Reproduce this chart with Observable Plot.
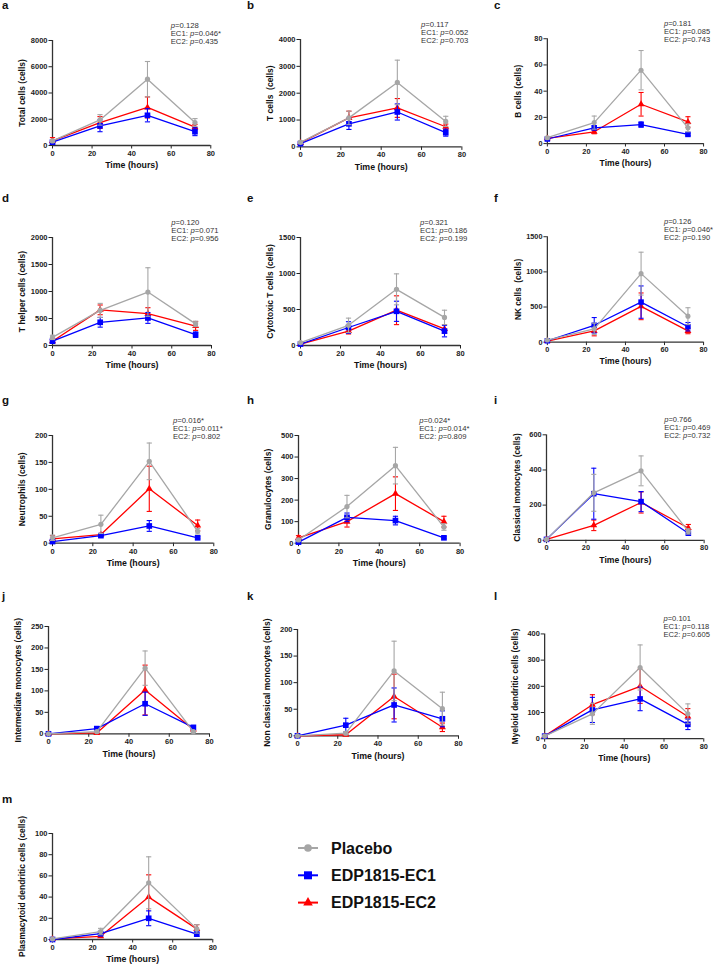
<!DOCTYPE html>
<html><head><meta charset="utf-8">
<script src="https://cdn.jsdelivr.net/npm/d3@7"></script>
<script src="https://cdn.jsdelivr.net/npm/@observablehq/plot@0.6"></script>
<style>
body{margin:0;background:#fff;}
#fig{position:relative;width:719px;height:966px;overflow:hidden;background:#fff;font-family:"Liberation Sans",Arial,sans-serif;}
.panel{position:absolute;}
.plabel{position:absolute;font-weight:bold;font-size:11.5px;line-height:1;color:#111;}
</style></head><body><div id="fig"></div>
<script>
// ---------- data ----------
const hours = [0, 24, 48, 72];
const xTicks = [0, 20, 40, 60, 80];
const seriesNames = ["Placebo", "EDP1815-EC1", "EDP1815-EC2"];
const seriesColors = ["#a6a6a6", "#0000ff", "#ff0000"];
const panelIds = ["a","b","c","d","e","f","g","h","i","j","k","l","m"];
const yTitles = ["Total cells (cells)","T cells  (cells)","B cells (cells)","T helper cells (cells)","Cytotoxic T cells (cells)","NK cells  (cells)","Neutrophils (cells)","Granulocytes (cells)","Classical monocytes (cells)","Intermediate monocytes (cells)","Non classical monocytes (cells)","Myeloid dendritic cells (cells)","Plasmacytoid dendritic cells (cells)"];
const yTickSets = [
  [0,2000,4000,6000,8000],[0,1000,2000,3000,4000],[0,20,40,60,80],
  [0,500,1000,1500,2000],[0,500,1000,1500],[0,500,1000,1500],
  [0,50,100,150,200],[0,100,200,300,400,500],[0,200,400,600],
  [0,50,100,150,200,250],[0,50,100,150,200],[0,100,200,300,400],
  [0,20,40,60,80,100]
];
const placeboMean = [[350,1950,5050,1750],[170,1080,2400,950],[4.5,16,56,12],[150,650,990,400],[40,280,780,390],[30,190,975,370],[10,35,152,22],[15,170,360,75],[5,270,395,50],[0,5,153,5],[0,5,122,51],[10,95,272,95],[0.5,7.5,53.5,10]];
const placeboSem  = [[100,400,1350,300],[50,250,830,190],[1,5,15,3],[40,130,450,50],[15,100,215,100],[10,80,305,120],[5,17,34,5],[5,52,85,15],[3,105,85,15],[0,2,40,2],[0,3,56,31],[3,40,86,38],[0.3,3,24.5,4]];
const ec1Mean = [[250,1500,2300,1050],[120,860,1300,530],[3.5,12,14.5,7],[80,430,510,200],[20,250,475,200],[20,240,570,220],[3,14,32,10],[5,120,105,25],[5,265,220,40],[0,12,70,15],[0,20,58,32],[10,110,152,55],[0,5.5,20,5]];
const ec1Sem  = [[80,450,500,300],[40,210,300,130],[0.5,1.5,2,1],[30,90,100,50],[10,80,140,80],[5,110,230,60],[1,2,10,2],[2,20,20,5],[2,145,57,10],[0,5,27,3],[0,13,32,15],[3,48,45,20],[0,2,7,2]];
const ec2Mean = [[350,1750,2900,1400],[150,1080,1450,750],[4,9,30,16.5],[80,660,590,360],[20,200,490,230],[15,160,510,160],[8,16,101,33],[25,100,230,100],[5,85,215,70],[0,2,102,10],[0,2,74,16],[10,130,200,85],[0.5,3,40,10]];
const ec2Sem  = [[250,450,800,200],[40,250,350,100],[0.5,1.5,9,4],[30,90,110,80],[10,40,200,60],[5,70,190,40],[6,2,42,10],[10,25,78,25],[3,30,60,20],[0,1,58,3],[0,1,42,8],[3,38,65,30],[0.3,1,21,4]];
const pTexts = [
  ["p=0.128","EC1: p=0.046*","EC2: p=0.435"],
  ["p=0.117","EC1: p=0.052","EC2: p=0.703"],
  ["p=0.181","EC1: p=0.085","EC2: p=0.743"],
  ["p=0.120","EC1: p=0.071","EC2: p=0.956"],
  ["p=0.321","EC1: p=0.186","EC2: p=0.199"],
  ["p=0.126","EC1: p=0.046*","EC2: p=0.190"],
  ["p=0.016*","EC1: p=0.011*","EC2: p=0.802"],
  ["p=0.024*","EC1: p=0.014*","EC2: p=0.809"],
  ["p=0.766","EC1: p=0.469","EC2: p=0.732"],
  null, null,
  ["p=0.101","EC1: p=0.118","EC2: p=0.605"],
  null
];

// ---------- layout (page px): frame left, frame right, frame top, frame bottom ----------
const frames = [
  [51.7,210,40,145],[300.3,461.7,39.3,146.7],[548.3,708.3,39.3,146.7],
  [51.7,210.7,237,345],[300,460,237,345],[548.3,708.3,237,345],
  [51.7,213,435,542.7],[297.7,459.3,435,542.7],[546.7,707.7,435,542.7],
  [48.3,209.3,626,733.3],[297.3,458.3,628.7,735],[545,707,634,740.7],
  [51.7,212,833.3,939.3]
];
const labelPos = [[2,9.3],[247,9.3],[494,9.3],[2,202],[247,202],[494,202],[2,404],[247,404],[494,404],[2,599.5],[247,599.5],[494,599.5],[2,803]];

const fig = document.getElementById("fig");
const ML = 48, MR = 16, MT = 32, MB = 32;
const capSymbol = {draw(ctx, size) { const w = Math.sqrt(size / Math.PI); ctx.moveTo(-w, 0); ctx.lineTo(w, 0); }};
const markerSymbols = ["circle", "square", "triangle"];
const markerR = [2.6, 3.2, 2.6];
const meanSets = [placeboMean, ec1Mean, ec2Mean];
const semSets = [placeboSem, ec1Sem, ec2Sem];

panelIds.forEach((id, i) => {
  const [fx0, fx1, fyT, fyB] = frames[i];
  const W = (fx1 - fx0) + ML + MR, H = (fyB - fyT) + MT + MB;
  const ticks = yTickSets[i];
  const marks = [
    Plot.ruleX([0], {stroke: "#333", strokeWidth: 1.3}),
    Plot.ruleY([0], {stroke: "#333", strokeWidth: 1.3})
  ];
  for (const k of [2, 1, 0]) {
    const rows = hours.map((h, j) => ({hour: h, mean: meanSets[k][i][j], lo: meanSets[k][i][j] - semSets[k][i][j], hi: meanSets[k][i][j] + semSets[k][i][j]}));
    const c = seriesColors[k];
    marks.push(
      Plot.ruleX(rows, {x: "hour", y1: "lo", y2: "hi", stroke: c, strokeWidth: 1.1}),
      Plot.dot(rows, {x: "hour", y: "hi", symbol: capSymbol, r: 2.6, stroke: c, strokeWidth: 1.1, fill: "none"}),
      Plot.dot(rows, {x: "hour", y: "lo", symbol: capSymbol, r: 2.6, stroke: c, strokeWidth: 1.1, fill: "none"}),
      Plot.line(rows, {x: "hour", y: "mean", stroke: c, strokeWidth: 1.3}),
      Plot.dot(rows, {x: "hour", y: "mean", symbol: markerSymbols[k], r: markerR[k], fill: c, stroke: "none"})
    );
  }
  marks.push(
    Plot.text([yTitles[i]], {text: d => d, frameAnchor: "left", textAnchor: "middle", lineAnchor: "middle", rotate: -90, dx: -30, fontSize: 8.5, fontWeight: "bold", fill: "#111"}),
    Plot.text(["Time (hours)"], {text: d => d, frameAnchor: "bottom", textAnchor: "middle", lineAnchor: "middle", dy: 20, fontSize: 8.8, fontWeight: "bold", fill: "#111"})
  );
  const plot = Plot.plot({
    width: W, height: H,
    marginLeft: ML, marginRight: MR, marginTop: MT, marginBottom: MB,
    style: {fontFamily: "'Liberation Sans', Arial, sans-serif", fontSize: "7.5px", fontWeight: "bold", color: "#222", background: "transparent", overflow: "visible"},
    x: {domain: [0, 80], ticks: xTicks, tickSize: 3.5, tickPadding: 1.5, tickFormat: d3.format("d"), label: null},
    y: {domain: [0, ticks[ticks.length - 1]], ticks: ticks, tickSize: 3.5, tickPadding: 1.5, tickFormat: d3.format("d"), label: null},
    marks
  });
  const div = document.createElement("div");
  div.className = "panel";
  div.style.left = (fx0 - ML) + "px";
  div.style.top = (fyT - MT) + "px";
  div.appendChild(plot);
  fig.appendChild(div);

  if (pTexts[i]) {
    const tx = plot.scale("x").apply(60);
    const svg = d3.select(plot);
    pTexts[i].forEach((line, j) => {
      const idx = line.indexOf("p=");
      const t = svg.append("text")
        .attr("x", tx).attr("y", MT - 15 + j * 8).attr("dy", "0.35em")
        .attr("text-anchor", "start")
        .attr("font-size", 7.7).attr("font-weight", "normal").attr("fill", "#333");
      t.append("tspan").text(line.slice(0, idx));
      t.append("tspan").attr("font-style", "italic").text("p");
      t.append("tspan").text(line.slice(idx + 1));
    });
  }

  const lab = document.createElement("div");
  lab.className = "plabel";
  lab.textContent = id;
  lab.style.left = labelPos[i][0] + "px";
  lab.style.top = (labelPos[i][1] - 9) + "px";
  fig.appendChild(lab);
});

// ---------- legend ----------
const leg = d3.select(fig).append("svg")
  .attr("width", 230).attr("height", 90)
  .style("position", "absolute").style("left", "290px").style("top", "830px");
const legSymbols = [d3.symbolCircle, d3.symbolSquare, d3.symbolTriangle];
const legSizes = [46, 64, 40];
seriesNames.forEach((name, k) => {
  const cy = 18 + k * 27.3;
  const g = leg.append("g");
  g.append("line").attr("x1", 8).attr("x2", 28).attr("y1", cy).attr("y2", cy)
    .attr("stroke", seriesColors[k]).attr("stroke-width", 2);
  g.append("path").attr("d", d3.symbol(legSymbols[k], legSizes[k])())
    .attr("transform", `translate(18,${cy})`).attr("fill", seriesColors[k]);
  g.append("text").attr("x", 41).attr("y", cy).attr("dy", "0.36em")
    .attr("font-family", "'Liberation Sans', Arial, sans-serif")
    .attr("font-size", 16).attr("font-weight", "bold").attr("fill", "#111").text(name);
});
</script></body></html>
